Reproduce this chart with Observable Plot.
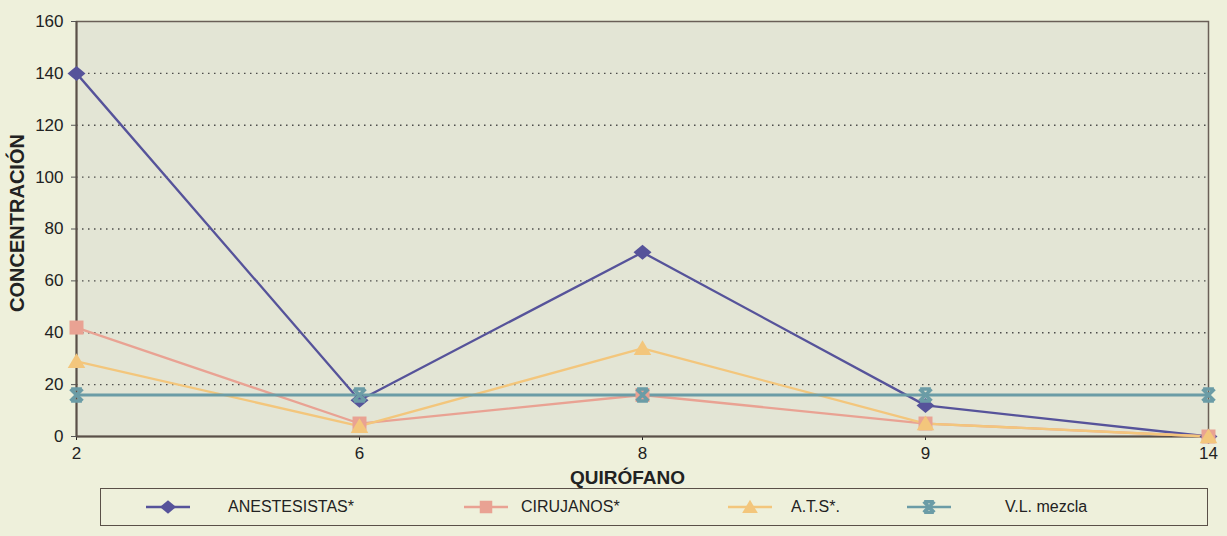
<!DOCTYPE html>
<html>
<head>
<meta charset="utf-8">
<script src="https://cdn.jsdelivr.net/npm/d3@7"></script>
<script src="https://cdn.jsdelivr.net/npm/@observablehq/plot@0.6"></script>
<style>
  html, body { margin: 0; padding: 0; background: #eef0db; }
  body { width: 1227px; height: 536px; overflow: hidden; font-family: "Liberation Sans", Arial, sans-serif; }
  #wrap { position: relative; width: 1227px; height: 536px; }
  #chart { position: absolute; left: 0; top: 0; }
  #legend { position: absolute; left: 100px; top: 488px; width: 1108px; height: 38px; border: 1.5px solid #5a5048; box-sizing: border-box; }
  .item { position: absolute; top: 0; height: 36px; display: flex; align-items: center; font-size: 16px; color: #222; }
  .item svg { display: block; }
</style>
</head>
<body>
<div id="wrap">
  <div id="chart"></div>
  <div id="legend"></div>
</div>
<script>
const quirofanos = ["2", "6", "8", "9", "14"];
const anestesistas = [140, 14, 71, 12, 0];
const cirujanos = [42, 5, 16, 5, 0];
const ats = [29, 4, 34, 5, 0];
const vlMezcla = [16, 16, 16, 16, 16];
const yTicks = [0, 20, 40, 60, 80, 100, 120, 140, 160];
const seriesNames = ["ANESTESISTAS*", "CIRUJANOS*", "A.T.S*.", "V.L. mezcla"];

// custom marker shapes (drawn around the point given by the scales)
const rad = size => Math.sqrt(size / Math.PI);
const symDiamond = {draw(c, size) { const r = rad(size); c.moveTo(-1.2 * r, 0); c.lineTo(0, -r); c.lineTo(1.2 * r, 0); c.lineTo(0, r); c.closePath(); }};
const symSquare = {draw(c, size) { const r = rad(size); c.rect(-r, -r, 2 * r, 2 * r); }};
const symTriangle = {draw(c, size) { const r = rad(size); c.moveTo(0, -1.0 * r); c.lineTo(1.1 * r, 0.85 * r); c.lineTo(-1.1 * r, 0.85 * r); c.closePath(); }};
const symStar = {draw(c, size) { const r = rad(size); c.moveTo(-r, -r); c.lineTo(r, r); c.moveTo(r, -r); c.lineTo(-r, r); c.moveTo(-r * 0.9, -r); c.lineTo(r * 0.9, -r); c.moveTo(-r * 0.9, r); c.lineTo(r * 0.9, r); }};

const seriesDefs = [
  {name: seriesNames[0], values: anestesistas, color: "#56539a", symbol: symDiamond, r: 7.5, filled: true, sw: 2.3},
  {name: seriesNames[1], values: cirujanos, color: "#e9a293", symbol: symSquare, r: 7, filled: true, sw: 2.3},
  {name: seriesNames[2], values: ats, color: "#f3c67c", symbol: symTriangle, r: 8, filled: true, sw: 2.3},
  {name: seriesNames[3], values: vlMezcla, color: "#6b9ca6", symbol: symStar, r: 6, filled: false, sw: 3}
];

const rows = seriesDefs.flatMap(s => quirofanos.map((q, i) => ({q, v: s.values[i], name: s.name})));

const marks = [
  Plot.frame({fill: "#e3e5d5", stroke: "#6a5f57", strokeWidth: 1.5}),
  Plot.gridY(yTicks.filter(t => t > 0 && t < 160), {stroke: "#333", strokeOpacity: 0.85, strokeDasharray: "1.5,4.5", strokeWidth: 1.3}),
  Plot.axisY({ticks: yTicks, tickSize: 5, tickPadding: 8, label: null, fontSize: 17, stroke: "#555"}),
  Plot.axisX({tickSize: 4, tickPadding: 6, label: null, fontSize: 17}),
  Plot.ruleY([0], {stroke: "#5a5048", strokeWidth: 2}),
  Plot.ruleX(["2"], {stroke: "#5a5048", strokeWidth: 2}),
];
for (const s of seriesDefs) {
  const data = rows.filter(d => d.name === s.name);
  marks.push(Plot.line(data, {x: "q", y: "v", stroke: s.color, strokeWidth: s.sw}));
}
for (const s of seriesDefs) {
  const data = rows.filter(d => d.name === s.name);
  if (s.filled) {
    marks.push(Plot.dot(data, {x: "q", y: "v", symbol: s.symbol, r: s.r, fill: s.color, stroke: "none"}));
  } else {
    marks.push(Plot.dot(data, {x: "q", y: "v", symbol: s.symbol, r: s.r, fill: "none", stroke: s.color, strokeWidth: 3.5}));
  }
}
marks.push(Plot.text(["CONCENTRACIÓN"], {frameAnchor: "left", textAnchor: "middle", dx: -58.5, dy: -6, rotate: -90, fontWeight: "bold", fontSize: 20, fill: "#222"}));
marks.push(Plot.text(["QUIRÓFANO"], {frameAnchor: "bottom", dx: -15, dy: 47, fontWeight: "bold", fontSize: 19, fill: "#222"}));

const chart = Plot.plot({
  width: 1227,
  height: 500,
  marginLeft: 76,
  marginRight: 19,
  marginTop: 21,
  marginBottom: 64,
  style: {background: "transparent", fontFamily: "'Liberation Sans', Arial, sans-serif", color: "#222", overflow: "visible"},
  x: {type: "point", domain: quirofanos, padding: 0},
  y: {domain: [0, 160]},
  marks
});
document.getElementById("chart").appendChild(chart);

// Legend
const legend = document.getElementById("legend");
const positions = [{sx: 45, tx: 127}, {sx: 363, tx: 420}, {sx: 627, tx: 690}, {sx: 806, tx: 904}];
seriesDefs.forEach((s, i) => {
  const sw = document.createElement("div");
  sw.className = "item";
  sw.style.left = positions[i].sx + "px";
  const path = d3.path();
  s.symbol.draw(path, Math.PI * s.r * s.r * 0.8);
  sw.innerHTML = `<svg width="44" height="22"><line x1="0" x2="44" y1="11" y2="11" stroke="${s.color}" stroke-width="2.5"/>` +
    `<path d="${path}" transform="translate(22,11)" ${s.filled ? `fill="${s.color}"` : `fill="none" stroke="${s.color}" stroke-width="3.5"`}/></svg>`;
  legend.appendChild(sw);
  const tx = document.createElement("div");
  tx.className = "item";
  tx.style.left = positions[i].tx + "px";
  tx.textContent = s.name;
  legend.appendChild(tx);
});
</script>
</body>
</html>
